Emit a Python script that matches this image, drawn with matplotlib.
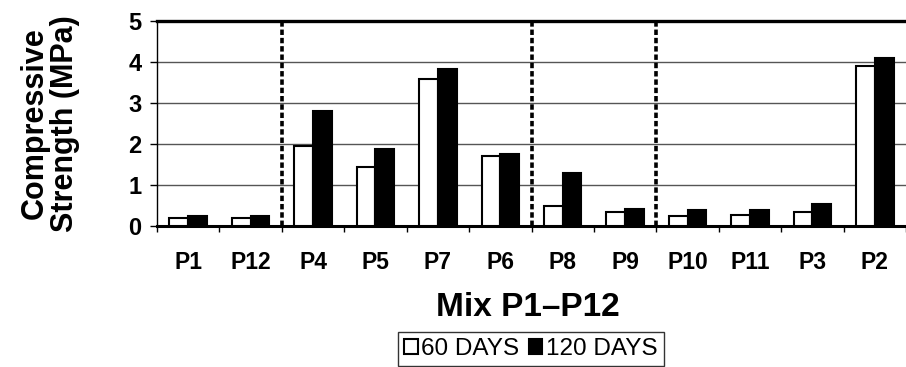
import matplotlib.pyplot as plt
import numpy as np

plt.rcParams['font.family'] = ['Liberation Sans', 'DejaVu Sans']

mixes = ['P1', 'P12', 'P4', 'P5', 'P7', 'P6', 'P8', 'P9', 'P10', 'P11', 'P3', 'P2']
days_60 = [0.2, 0.2, 1.95, 1.45, 3.58, 1.7, 0.5, 0.33, 0.24, 0.27, 0.35, 3.9]
days_120 = [0.25, 0.25, 2.8, 1.88, 3.82, 1.75, 1.3, 0.41, 0.4, 0.4, 0.53, 4.1]
group_breaks = [1.5, 5.5, 7.5]

fig = plt.figure(figsize=(9.06, 3.67), dpi=100)
ax = fig.add_axes([157 / 906, 1 - 226 / 367, 1 - 157 / 906, (226 - 21) / 367])

x = np.arange(len(mixes))
w = 0.3
ax.bar(x - w / 2, days_60, w, color='white', edgecolor='black', linewidth=1.5,
       label='60 DAYS', zorder=3)
ax.bar(x + w / 2, days_120, w, color='black', edgecolor='black', linewidth=1.5,
       label='120 DAYS', zorder=3)

for b in group_breaks:
    ax.axvline(b, color='black', linewidth=2.6, linestyle=(0, (1.5, 0.8)), zorder=4)

ax.set_xlim(-0.5, 11.35)
ax.set_ylim(0, 5)
ax.set_yticks(range(6))
ax.yaxis.grid(True, color='#555555', linewidth=1.0)
ax.set_axisbelow(True)

ax.set_xticks(x)
ax.set_xticklabels(mixes, fontsize=16.5, fontweight='bold')
ax.set_xticks(np.arange(-0.5, 12, 1), minor=True)
ax.tick_params(axis='x', which='major', length=0, pad=18)
ax.tick_params(axis='x', which='minor', length=4, width=1, direction='out')
ax.tick_params(axis='y', length=5, width=1, pad=6)
for t in ax.get_yticklabels():
    t.set_fontsize(17)
    t.set_fontweight('bold')

ax.spines['right'].set_visible(False)
ax.spines['top'].set_linewidth(2.4)
ax.spines['bottom'].set_linewidth(2.2)
ax.spines['left'].set_linewidth(1.0)

ax.set_ylabel('Compressive\nStrength (MPa)', fontsize=22, fontweight='bold',
              linespacing=1.0)
ax.yaxis.set_label_coords((80 - 157) / 749, 0.5)

fig.text(528 / 906, 1 - 307 / 367, 'Mix P1\u2013P12', fontsize=24, fontweight='bold',
         ha='center', va='center')

leg = fig.legend(loc='upper center', bbox_to_anchor=(531 / 906, 1 - 332 / 367),
                 ncol=2, frameon=True, fancybox=False, fontsize=17.5,
                 handlelength=0.55, handleheight=0.55, handletextpad=0.15,
                 columnspacing=0.4, borderpad=0.25, borderaxespad=0)
leg.get_frame().set_edgecolor('black')
leg.get_frame().set_linewidth(1.0)

fig.savefig('out.png', dpi=100)
